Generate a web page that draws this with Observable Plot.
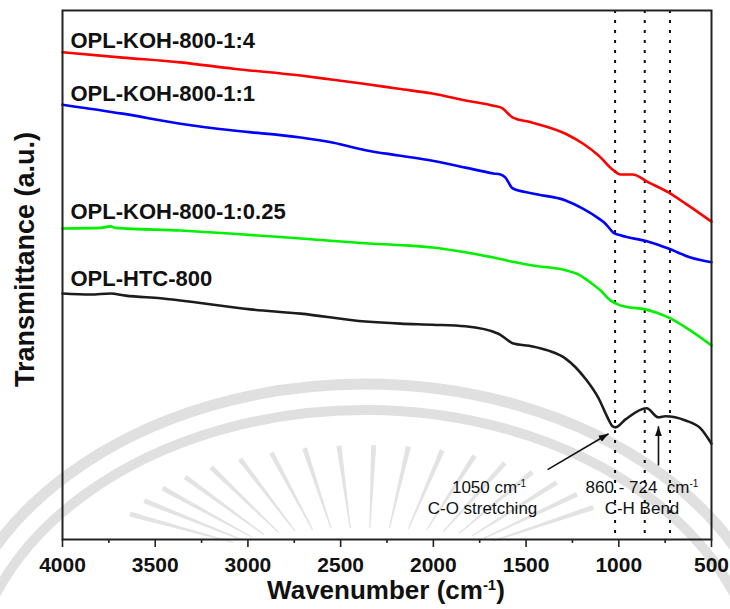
<!DOCTYPE html>
<html>
<head>
<meta charset="utf-8">
<script src="https://cdn.jsdelivr.net/npm/d3@7"></script>
<script src="https://cdn.jsdelivr.net/npm/@observablehq/plot@0.6"></script>
<style>
  body { margin: 0; background: #fff; }
  #chart svg { display: block; }
</style>
</head>
<body>
<div id="chart"></div>
<script>
// FTIR spectra: wavenumber (cm-1) and transmittance (arbitrary units, stacked)
const seriesNames = ["OPL-KOH-800-1:4", "OPL-KOH-800-1:1", "OPL-KOH-800-1:0.25", "OPL-HTC-800"];

const wnKoh4 = [4000, 3676, 3364, 3078, 2716, 2539, 2366, 2188, 2005, 1827, 1676, 1627, 1573, 1465, 1287, 1196, 1109, 1029, 991, 926, 840, 732, 640, 500];
const tKoh4  = [92.1, 91.1, 90.2, 89.0, 87.7, 86.9, 86.1, 85.2, 84.3, 83.0, 82.0, 81.5, 79.8, 78.8, 76.7, 74.9, 72.6, 69.8, 69.0, 69.0, 67.5, 65.6, 63.5, 60.1];

const wnKoh1 = [4000, 3676, 3364, 3078, 2716, 2539, 2366, 2188, 2005, 1827, 1676, 1638, 1611, 1573, 1465, 1287, 1196, 1109, 1072, 1029, 991, 840, 732, 613, 500];
const tKoh1  = [82.2, 80.5, 78.6, 77.3, 76.0, 75.0, 73.6, 72.6, 71.6, 70.3, 69.2, 69.0, 68.4, 66.4, 65.4, 64.1, 62.6, 60.7, 59.7, 58.0, 57.5, 56.3, 55.0, 53.3, 52.4];

const wnKoh025 = [4000, 3795, 3741, 3714, 3364, 3078, 2716, 2366, 2150, 2005, 1827, 1676, 1557, 1465, 1287, 1206, 1153, 1099, 1045, 1002, 964, 856, 732, 613, 500];
const tKoh025  = [58.8, 58.9, 59.2, 58.9, 58.4, 57.8, 56.9, 56.0, 55.6, 55.2, 54.3, 53.3, 52.4, 51.8, 50.9, 49.9, 48.6, 47.1, 45.2, 44.4, 44.0, 43.5, 42.0, 39.5, 36.7];

const wnHtc = [4000, 3849, 3741, 3660, 3471, 2986, 2716, 2366, 2177, 2005, 1827, 1649, 1611, 1573, 1465, 1379, 1287, 1180, 1109, 1061, 1034, 1018, 964, 850, 786, 748, 640, 559, 500];
const tHtc  = [46.5, 46.3, 46.5, 46.1, 45.6, 43.5, 42.7, 41.2, 40.8, 40.6, 40.3, 38.9, 38.0, 37.1, 36.5, 35.7, 34.2, 30.4, 26.7, 23.1, 21.4, 21.2, 22.7, 24.8, 23.1, 23.3, 22.5, 21.0, 18.1];

// Band positions marked with dotted guides (cm-1)
const bandLines = [1020, 860, 724];

// Axis ticks
const majorTicks = [4000, 3500, 3000, 2500, 2000, 1500, 1000, 500];
const minorTicks = [3750, 3250, 2750, 2250, 1750, 1250, 750];

const spectra = [
  [wnKoh4, tKoh4], [wnKoh1, tKoh1], [wnKoh025, tKoh025], [wnHtc, tHtc]
];
const rows = spectra.flatMap(([wn, t], i) =>
  wn.map((w, j) => ({series: seriesNames[i], wn: w, t: t[j]}))
);

// Filled triangular arrowhead
function solidHead(color, context) {
  const m = d3.create("svg:marker")
    .attr("viewBox", "-10 -5 10 10")
    .attr("markerWidth", 10)
    .attr("markerHeight", 10)
    .attr("markerUnits", "userSpaceOnUse")
    .attr("orient", "auto")
    .attr("fill", color)
    .attr("stroke", "none");
  m.append("path").attr("d", "M-10,-3.5L0,0L-10,3.5Z");
  return m.node();
}

const font = "'Liberation Sans', Arial, Helvetica, sans-serif";

const chart = Plot.plot({
  width: 730,
  height: 609,
  marginLeft: 62,
  marginRight: 19,
  marginTop: 10,
  marginBottom: 70,
  style: {fontFamily: font, background: "#fff", overflow: "visible"},
  x: {domain: [4000, 500]},
  y: {domain: [0, 100], axis: null},
  color: {domain: seriesNames, range: ["#ff0000", "#0000ff", "#00f000", "#1c1c1c"]},
  marks: [
    Plot.ruleX(bandLines, {stroke: "#111", strokeWidth: 2, strokeDasharray: "3,7"}),
    Plot.line(rows, {x: "wn", y: "t", z: "series", stroke: "series", strokeWidth: 2.6, curve: "monotone-x"}),
    Plot.axisX(minorTicks, {tickSize: 4, tickFormat: () => "", stroke: "#222", strokeWidth: 1.6, label: null}),
    Plot.axisX(majorTicks, {tickSize: 8, tickPadding: 10, fontSize: 21, fontWeight: "bold", fill: "#111", stroke: "#222", strokeWidth: 1.6, label: null, tickFormat: d => String(d)}),
    Plot.frame({stroke: "#222", strokeWidth: 2}),
    // series labels
    Plot.text(seriesNames, {x: 3957, y: [94.3, 84.3, 62.0, 49.3], textAnchor: "start", fontSize: 22, fontWeight: "bold", fill: "#111"}),
    // band annotations
    Plot.link([0], {x1: 1384, y1: 13.2, x2: 1055, y2: 20.0, stroke: "#111", strokeWidth: 1.6, markerEnd: solidHead}),
    Plot.link([0], {x1: 786, y1: 14.0, x2: 786, y2: 21.4, stroke: "#111", strokeWidth: 1.6, markerEnd: solidHead}),
    Plot.text(["1050 cm^-1"], {x: 1700, y: 9.9, fontSize: 17, fill: "#111"}),
    Plot.text(["C-O stretching"], {x: 1735, y: 5.9, fontSize: 17, fill: "#111"}),
    Plot.text(["860 - 724\u00a0 cm^-1"], {x: 875, y: 9.9, fontSize: 17, fill: "#111"}),
    Plot.text(["C-H Bend"], {x: 875, y: 5.9, fontSize: 17, fill: "#111"}),
    // axis titles
    Plot.text(["Wavenumber (cm^-1^)"], {frameAnchor: "bottom", dy: 59.5, dx: -1, fontSize: 26, fontWeight: "bold", fill: "#111"}),
    Plot.text(["Transmittance (a.u.)"], {frameAnchor: "left", textAnchor: "middle", rotate: -90, dx: -37.6, dy: -15.5, fontSize: 27, fontWeight: "bold", fill: "#111"})
  ]
});

// Turn "^...^" segments into raised, smaller tspans
d3.select(chart).selectAll("text").each(function () {
  const content = this.textContent;
  if (!content.includes("^")) return;
  let size = parseFloat(this.getAttribute("font-size"));
  if (!size) {
    const holder = this.closest("[font-size]");
    size = holder ? parseFloat(holder.getAttribute("font-size")) : 17;
  }
  const supSize = Math.round(size * 0.58);
  const rise = size * 0.34;
  const parts = content.split("^");
  const sel = d3.select(this);
  sel.text("");
  parts.forEach((p, i) => {
    if (!p) return;
    const ts = sel.append("tspan").text(p);
    if (i % 2 === 1) ts.attr("font-size", supSize).attr("dy", -rise);
    else if (i > 0) ts.attr("dy", rise);
  });
});

// Faint background seal behind the plot
(function drawSeal(svg) {
  const g = d3.select(svg).insert("g", "g");
  const cx = 365, cy = 694;
  g.append("ellipse").attr("cx", cx).attr("cy", cy).attr("rx", 420).attr("ry", 310)
    .attr("fill", "none").attr("stroke", "#e0e0e0").attr("stroke-width", 11);
  g.append("ellipse").attr("cx", cx).attr("cy", cy + 4).attr("rx", 396).attr("ry", 288)
    .attr("fill", "none").attr("stroke", "#e0e0e0").attr("stroke-width", 10);
  const rcx = 365, rcy = 550;
  const rays = d3.range(200, 341, 8);
  rays.forEach(deg => {
    const a = deg * Math.PI / 180;
    const c = Math.cos(a), s = Math.sin(a);
    const ix = rcx + 140 * c, iy = rcy + 22 * s;
    const ox = rcx + 250 * c, oy = rcy + 105 * s;
    const dx = ox - ix, dy = oy - iy, len = Math.hypot(dx, dy);
    const nx = -dy / len, ny = dx / len;
    g.append("path")
      .attr("d", `M${ix + nx * 0.6},${iy + ny * 0.6}L${ox + nx * 2.5},${oy + ny * 2.5}L${ox - nx * 2.5},${oy - ny * 2.5}L${ix - nx * 0.6},${iy - ny * 0.6}Z`)
      .attr("fill", "#e3e3e3");
  });
})(chart);

document.getElementById("chart").appendChild(chart);
</script>
</body>
</html>
